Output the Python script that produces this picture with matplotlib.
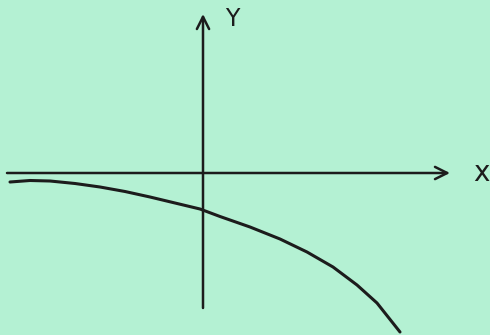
import matplotlib.pyplot as plt

# curve (one unit ~ 50 px, origin where the axes cross)
curve_x = [-3.86, -3.46, -3.06, -2.56, -2.06, -1.56, -1.06, -0.56, -0.06,
           0.34, 0.94, 1.54, 2.08, 2.60, 3.08, 3.48, 3.94]
curve_y = [-0.18, -0.15, -0.16, -0.21, -0.28, -0.37, -0.48, -0.60, -0.72,
           -0.87, -1.08, -1.32, -1.58, -1.88, -2.24, -2.60, -3.18]

x_axis = (-3.92, 4.94)
y_axis = (-2.70, 3.18)
axis_labels = ["x", "Y"]

bg = "#b4f1d3"
ink = "#1c1c1c"

fig = plt.figure(figsize=(4.9, 3.35), dpi=100)
fig.patch.set_facecolor(bg)
ax = fig.add_axes([0, 0, 1, 1])
ax.set_facecolor(bg)
ax.set_xlim(-4.06, 5.74)
ax.set_ylim(-3.24, 3.46)
ax.axis("off")

arrow = dict(arrowstyle="->", color=ink, lw=1.8, mutation_scale=22, shrinkA=0, shrinkB=0)
ax.annotate("", xy=(x_axis[1], 0), xytext=(x_axis[0], 0), arrowprops=arrow)
ax.annotate("", xy=(0, y_axis[1]), xytext=(0, y_axis[0]), arrowprops=arrow)

ax.plot(curve_x, curve_y, color=ink, lw=2.2, solid_capstyle="round", solid_joinstyle="round")

ax.text(5.56, 0.0, axis_labels[0], color=ink, fontsize=20, ha="center", va="center")
ax.text(0.58, 3.08, axis_labels[1], color=ink, fontsize=17, ha="center", va="center")

fig.savefig("out.png", dpi=100, facecolor=bg)
